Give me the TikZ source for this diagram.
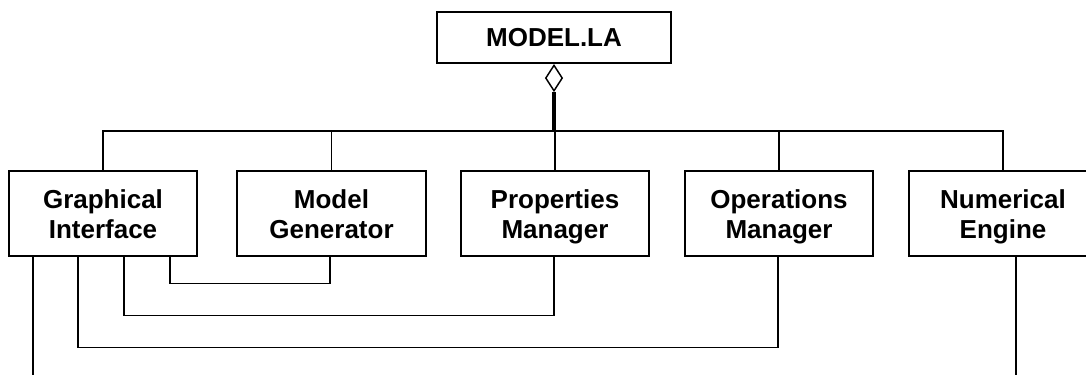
\documentclass[tikz,border=0pt]{standalone}
\usepackage{fontspec}
\setmainfont{Liberation Sans}
\usetikzlibrary{shapes.geometric,calc}
\newcommand{\boxtext}[2]{\begin{tabular}{@{}c@{}}\rule{0pt}{22.4pt}#1\\#2\rule[-6.75pt]{0pt}{6.75pt}\end{tabular}}
\newcommand{\toptext}[1]{\rule{0pt}{20.5pt}#1\rule[-6.75pt]{0pt}{6.75pt}}
\begin{document}
\begin{tikzpicture}[x=0.75pt,y=-0.75pt,
  box/.style={draw, line width=1.1pt, fill=white,
    font=\bfseries\fontsize{19.5}{22.5}\selectfont,
    minimum width=141pt, minimum height=63.75pt, inner sep=0pt},
  topbox/.style={box, minimum width=175.5pt, minimum height=38.25pt},
  wire/.style={line width=1.1pt},
  thickwire/.style={line width=2.4pt},
  agg/.style={draw, diamond, line width=1.1pt, fill=white, inner sep=0pt,
    minimum width=12.75pt, minimum height=19.5pt, aspect=0.65}]
\useasboundingbox (0,0) rectangle (1086,375);
\clip (0,0) rectangle (1086,375);
% nodes
\node[topbox] (top) at (554,37.5) {\toptext{MODEL.LA}};
\node[box] (gi) at (103,213.5) {\boxtext{Graphical}{Interface}};
\node[box, minimum width=141.75pt] (mg) at (331.5,213.5) {\boxtext{Model}{Generator}};
\node[box] (pm) at (555,213.5) {\boxtext{Properties}{Manager}};
\node[box] (om) at (779,213.5) {\boxtext{Operations}{Manager}};
\node[box] (ne) at (1003,213.5) {\boxtext{Numerical}{Engine}};
\node[agg, anchor=north] (dia) at ($(top.south)+(0,0.6)$) {};
\coordinate (bus) at (555,131);
% aggregation
\draw[thickwire] (dia.south) -- (dia.south |- bus);
\draw[wire] (gi.north) |- (ne.north |- bus) -- (ne.north);
\draw[wire] (mg.north) -- (mg.north |- bus);
\draw[wire] (pm.north) -- (pm.north |- bus);
\draw[wire] (om.north) -- (om.north |- bus);
% dependencies
\coordinate (gidown) at (33,390);
\draw[wire] (gidown |- gi.south) -- (gidown);
\draw[wire] ($(gi.south)+(67,0)$) -- ++(0,27) -| ($(mg.south)+(-1.5,0)$);
\draw[wire] ($(gi.south)+(21,0)$) -- ++(0,59) -| ($(pm.south)+(-1,0)$);
\draw[wire] ($(gi.south)+(-25,0)$) -- ++(0,91) -| ($(om.south)+(-1,0)$);
\coordinate (nedown) at (1016,390);
\draw[wire] (nedown |- ne.south) -- (nedown);
\end{tikzpicture}
\end{document}
